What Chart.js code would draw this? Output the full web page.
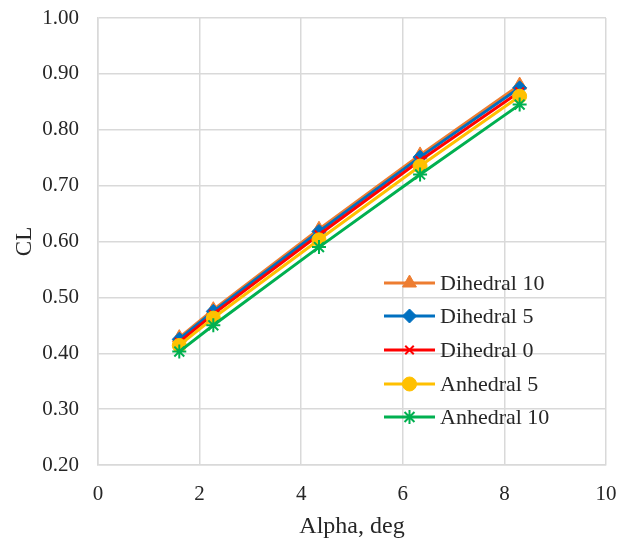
<!DOCTYPE html>
<html lang="en">
<head>
    <meta charset="UTF-8">
    <title>CL vs Alpha</title>
    <script src="https://cdn.jsdelivr.net/npm/chart.js"></script>
    <style>
        body { margin: 0; background: #fff; }
        #wrap { width: 631px; height: 539px; }
    </style>
</head>
<body>
    <div id="wrap">
        <canvas id="clChart" width="631" height="539"></canvas>
    </div>
    <script>
        const alpha = [1.6, 2.27, 4.35, 6.34, 8.3];
        const seriesNames = ['Dihedral 10', 'Dihedral 5', 'Dihedral 0', 'Anhedral 5', 'Anhedral 10'];
        const dihedral10 = [0.428, 0.478, 0.622, 0.755, 0.880];
        const dihedral5 = [0.425, 0.475, 0.618, 0.751, 0.875];
        const dihedral0 = [0.420, 0.470, 0.612, 0.745, 0.868];
        const anhedral5 = [0.414, 0.463, 0.603, 0.735, 0.860];
        const anhedral10 = [0.403, 0.450, 0.590, 0.720, 0.845];

        const colors = ['#ED7D31', '#0070C0', '#FF0000', '#FFC000', '#00B050'];
        const markers = ['triangle', 'rectRot', 'crossRot', 'circle', 'star'];
        const markerSize = [8, 7, 6, 7, 7];
        const allValues = [dihedral10, dihedral5, dihedral0, anhedral5, anhedral10];

        const serif = "'Liberation Serif', 'Times New Roman', serif";
        const textColor = '#262626';

        const datasets = allValues.map((vals, i) => ({
            label: seriesNames[i],
            data: vals.map((v, j) => ({ x: alpha[j], y: v })),
            borderColor: colors[i],
            backgroundColor: colors[i],
            borderWidth: 3,
            pointStyle: markers[i],
            pointRadius: markerSize[i],
            pointBorderWidth: (markers[i] === 'crossRot' || markers[i] === 'star') ? 2 : 1,
            order: 10 - i // later series drawn on top, like excel
        }));

        // legend drawn inside the plot area, bottom right
        const insideLegend = {
            id: 'insideLegend',
            afterDraw(chart) {
                const ctx = chart.ctx;
                const x0 = 384, x1 = 435, tx = 440;
                const rows = [283, 316, 350, 384, 417];
                ctx.save();
                ctx.font = '22px ' + serif;
                ctx.textBaseline = 'middle';
                chart.data.datasets.forEach((ds, i) => {
                    const y = rows[i];
                    ctx.strokeStyle = ds.borderColor;
                    ctx.lineWidth = 3;
                    ctx.beginPath();
                    ctx.moveTo(x0, y);
                    ctx.lineTo(x1, y);
                    ctx.stroke();
                    ctx.lineWidth = ds.pointBorderWidth;
                    ctx.fillStyle = ds.borderColor;
                    Chart.helpers.drawPoint(ctx, {
                        pointStyle: ds.pointStyle,
                        radius: ds.pointRadius,
                        rotation: 0,
                        borderWidth: ds.pointBorderWidth
                    }, (x0 + x1) / 2, y);
                    ctx.fillStyle = textColor;
                    ctx.fillText(ds.label, tx, y + 1);
                });
                ctx.restore();
            }
        };

        const ctx = document.getElementById('clChart').getContext('2d');
        new Chart(ctx, {
            type: 'line',
            data: { datasets: datasets },
            plugins: [insideLegend],
            options: {
                responsive: false,
                animation: false,
                layout: { padding: { left: 13, right: 25, top: 18, bottom: 0 } },
                plugins: {
                    legend: { display: false },
                    tooltip: { enabled: false }
                },
                scales: {
                    x: {
                        type: 'linear',
                        min: 0,
                        max: 10,
                        ticks: { stepSize: 2, color: textColor, font: { family: serif, size: 21 }, padding: 17 },
                        grid: { color: '#d9d9d9', lineWidth: 1.5, drawTicks: false },
                        border: { color: '#d9d9d9', width: 1.5 },
                        title: { display: true, text: 'Alpha, deg', color: textColor, font: { family: serif, size: 24, lineHeight: 1 }, padding: 0 },
                        afterFit(scale) {
                            scale.height = 539 - 465;
                            scale.paddingLeft = 0;
                            scale.paddingRight = 0;
                        }
                    },
                    y: {
                        min: 0.2,
                        max: 1.0,
                        ticks: {
                            stepSize: 0.1,
                            color: textColor,
                            font: { family: serif, size: 21 },
                            padding: 19,
                            callback: v => v.toFixed(2)
                        },
                        grid: { color: '#d9d9d9', lineWidth: 1.5, drawTicks: false },
                        border: { color: '#d9d9d9', width: 1.5 },
                        title: { display: true, text: 'CL', color: textColor, font: { family: serif, size: 23, lineHeight: 1 }, padding: 0 },
                        afterFit(scale) {
                            scale.width = 98 - 13;
                            scale.paddingTop = 0;
                            scale.paddingBottom = 0;
                        }
                    }
                }
            }
        });
    </script>
</body>
</html>
